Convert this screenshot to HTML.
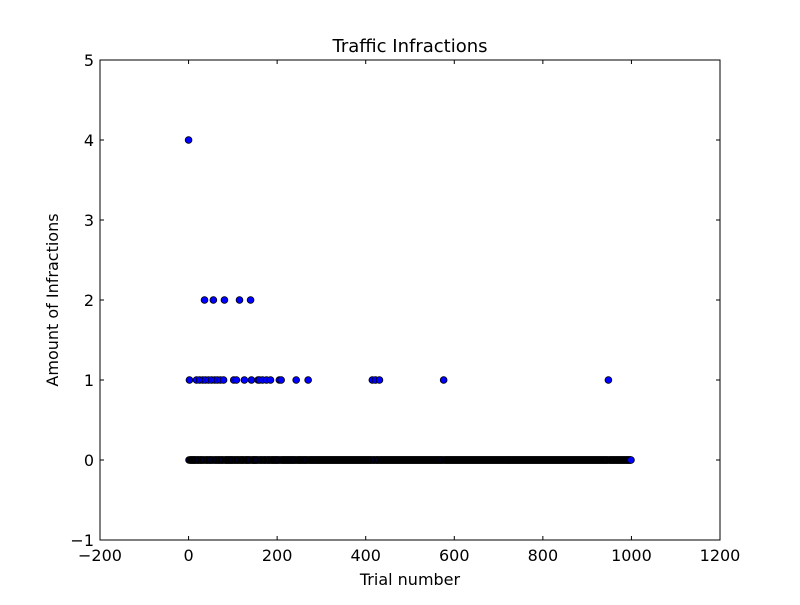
<!DOCTYPE html>
<html><head><meta charset="utf-8"><style>
body{margin:0;background:#fff}
svg text{font-family:"DejaVu Sans","Liberation Sans",sans-serif;}
</style></head><body>
<svg id="chart" width="800" height="600" xmlns="http://www.w3.org/2000/svg">
<rect width="800" height="600" fill="#fff"/>
<g id="marks"></g>
<g id="axes"></g>
</svg>
<script>
const xTicks=[-200,0,200,400,600,800,1000,1200];
const yTicks=[-1,0,1,2,3,4,5];
const trialCount=1000;
const fourTrials=[1];
const twoTrials=[37,57,82,116,141];
const oneTrials=[3,19,26,33,39,46,53,60,66,73,80,103,109,127,143,158,161,168,177,186,206,210,244,271,416,423,432,577,949];
const L=100,R=720,T=60,B=540;
const xS=v=>L+(v+200)/1400*(R-L);
const yS=v=>B-(v+1)/6*(B-T);
const NS='http://www.w3.org/2000/svg';
function mk(tag,attrs,parent){const e=document.createElementNS(NS,tag);for(const k in attrs)e.setAttribute(k,attrs[k]);parent.appendChild(e);return e;}
const marks=document.getElementById('marks'),axes=document.getElementById('axes');
const vals=[];
for(let t=1;t<=trialCount;t++){let v=0;if(fourTrials.includes(t))v=4;else if(twoTrials.includes(t))v=2;else if(oneTrials.includes(t))v=1;vals.push([t-1,v]);}
vals.forEach(([x,y])=>{const c=mk('circle',{cx:xS(x),cy:yS(y),r:3.4,fill:'#0000ff',stroke:'#000','stroke-width':0.8},marks);

});
const fr=mk('rect',{x:L,y:T,width:R-L,height:B-T,fill:'none',stroke:'#000','stroke-width':1},axes);


xTicks.forEach(v=>{const x=xS(v);mk('line',{x1:x,x2:x,y1:B,y2:B-4,stroke:'#000'},axes);mk('line',{x1:x,x2:x,y1:T,y2:T+4,stroke:'#000'},axes);
const t=mk('text',{x:x,y:B+21,'text-anchor':'middle','font-size':'16'},axes);t.textContent=v<0?'\u2212'+(-v):v;

});
yTicks.forEach(v=>{const y=yS(v);mk('line',{x1:L,x2:L+4,y1:y,y2:y,stroke:'#000'},axes);mk('line',{x1:R,x2:R-4,y1:y,y2:y,stroke:'#000'},axes);
const t=mk('text',{x:L-6,y:y+6,'text-anchor':'end','font-size':'16'},axes);t.textContent=v<0?'\u2212'+(-v):v;

});
const ti=mk('text',{x:410,y:52,'text-anchor':'middle','font-size':'18'},axes);ti.textContent='Traffic Infractions';


const xl=mk('text',{x:410,y:585,'text-anchor':'middle','font-size':'16'},axes);xl.textContent='Trial number';


const yl=mk('text',{x:58,y:300,'text-anchor':'middle','font-size':'16',transform:'rotate(-90 58 300)'},axes);yl.textContent='Amount of Infractions';


</script>
</body></html>
